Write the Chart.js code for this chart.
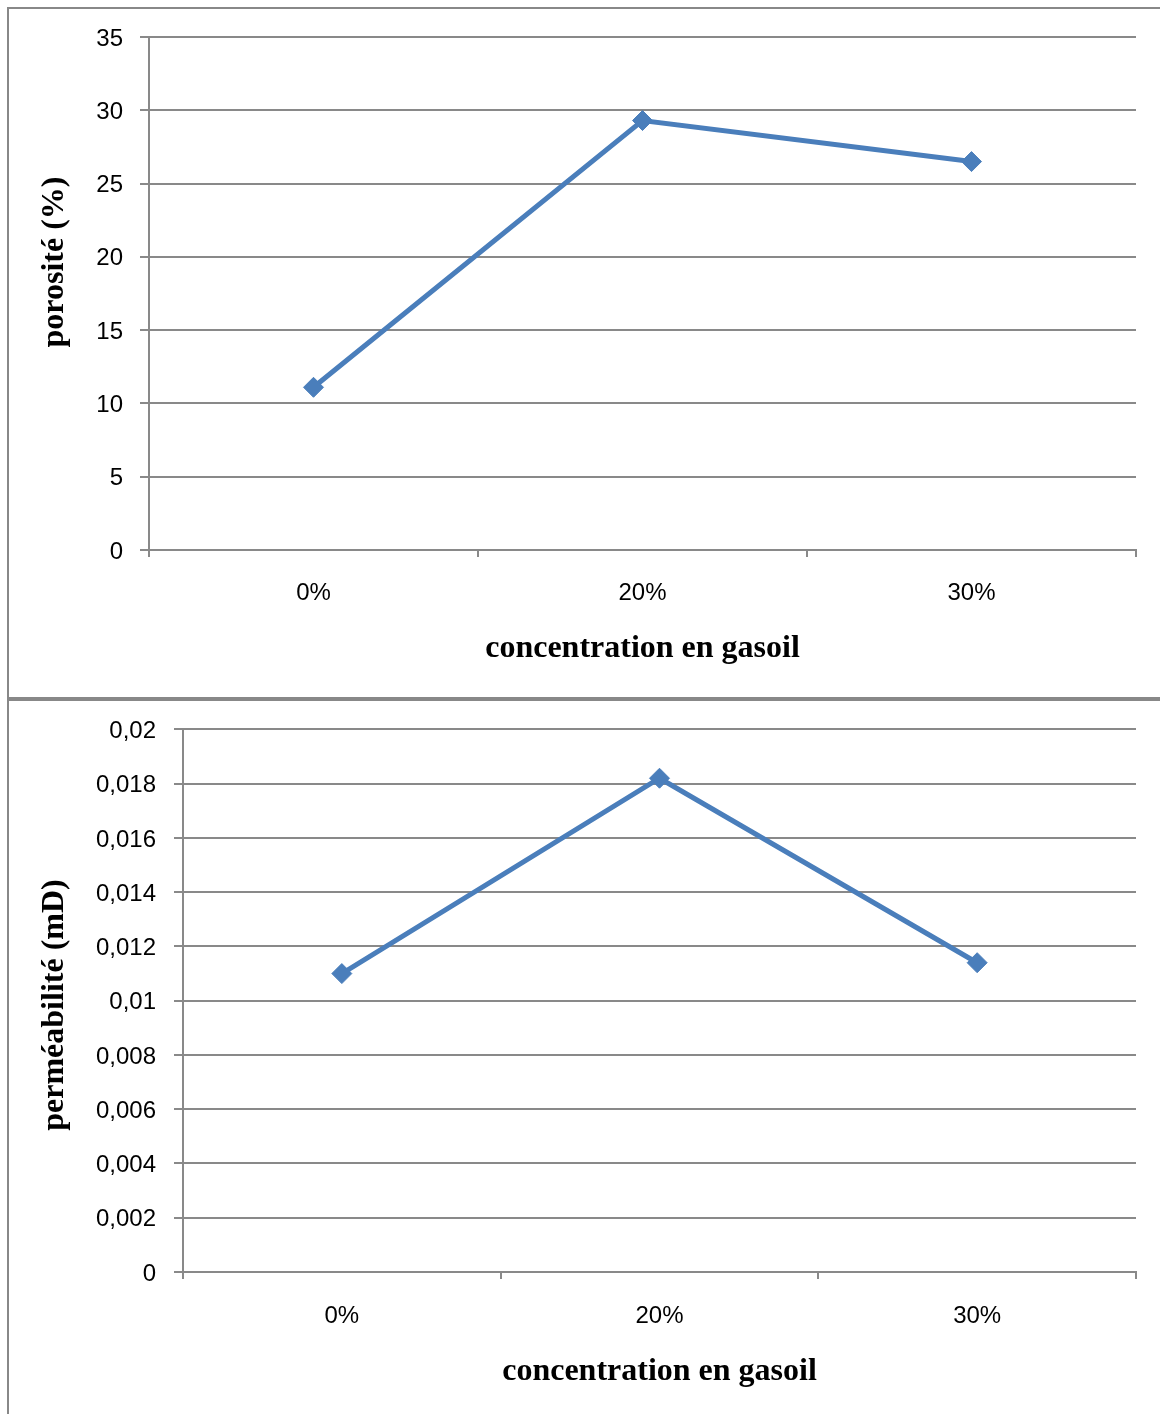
<!DOCTYPE html>
<html>
<head>
<meta charset="utf-8">
<script src="https://cdn.jsdelivr.net/npm/chart.js@4.4.1/dist/chart.umd.min.js"></script>
<style>
  html, body { margin: 0; padding: 0; background: #fff; }
  #page { position: relative; width: 1160px; height: 1414px; overflow: hidden; }
  .c { position: absolute; left: 0; }
  .rule { position: absolute; background: #888; }
</style>
</head>
<body>
<div id="page">
  <div class="c" style="top:0;width:1160px;height:697px"><canvas id="porosite"></canvas></div>
  <div class="c" style="top:697px;width:1160px;height:717px"><canvas id="permeabilite"></canvas></div>
  <div class="rule" style="left:7px;top:7px;width:2px;height:1407px"></div>
  <div class="rule" style="left:7px;top:7px;width:1153px;height:2px"></div>
  <div class="rule" style="left:7px;top:697px;width:1153px;height:4px"></div>
</div>
<script>
// Gasoil concentration categories shared by both charts
const concentrations = ['0%', '20%', '30%'];

// Porosity (%) per concentration
const porosite = [11.1, 29.3, 26.5];
const porositeTicks = [0, 5, 10, 15, 20, 25, 30, 35];
const porositeLabels = ['0', '5', '10', '15', '20', '25', '30', '35'];

// Permeability (mD) per concentration
const permeabilite = [0.011, 0.0182, 0.0114];
const permeabiliteTicks = [0, 0.002, 0.004, 0.006, 0.008, 0.01, 0.012, 0.014, 0.016, 0.018, 0.02];
const permeabiliteLabels = ['0', '0,002', '0,004', '0,006', '0,008', '0,01', '0,012', '0,014', '0,016', '0,018', '0,02'];

const xTitle = 'concentration en gasoil';
const yTitlePorosite = 'porosité (%)';
const yTitlePermeabilite = 'perméabilité (mD)';

const BLUE = '#4A7EBB';
const GRID = '#898989';
const tickFont = { family: '"Liberation Sans", Arial, sans-serif', size: 24 };
const titleFont = { family: '"Liberation Serif", "Times New Roman", serif', size: 32, weight: 'bold' };

// Rotated y-axis title drawn at a fixed spot
const yTitlePlugin = {
  id: 'yTitle',
  afterDraw(chart, args, opts) {
    const ctx = chart.ctx;
    ctx.save();
    ctx.translate(opts.x, opts.y);
    ctx.rotate(-Math.PI / 2);
    ctx.font = 'bold 32px "Liberation Serif", "Times New Roman", serif';
    ctx.fillStyle = '#000';
    ctx.textAlign = 'center';
    ctx.textBaseline = 'middle';
    ctx.fillText(opts.text, 0, 0);
    ctx.restore();
  }
};

function makeChart(id, values, tickValues, tickLabels, min, max, cfg) {
  return new Chart(document.getElementById(id), {
    type: 'line',
    data: {
      labels: concentrations,
      datasets: [{
        data: values,
        borderColor: BLUE,
        backgroundColor: BLUE,
        borderWidth: 5,
        pointStyle: 'rectRot',
        pointRadius: 10,
        pointBorderWidth: 1,
        pointBorderColor: BLUE,
        pointBackgroundColor: BLUE,
        tension: 0,
        fill: false
      }]
    },
    options: {
      responsive: true,
      maintainAspectRatio: false,
      animation: false,
      events: [],
      layout: { padding: { top: cfg.top, right: 24, left: 0, bottom: 0 } },
      plugins: {
        legend: { display: false },
        tooltip: { enabled: false },
        yTitle: { text: cfg.yTitle, x: 55, y: cfg.yTitleY }
      },
      scales: {
        x: {
          type: 'category',
          offset: true,
          grid: { offset: true, drawOnChartArea: false, drawTicks: true, tickLength: 7, color: GRID, lineWidth: 2 },
          border: { display: true, color: GRID, width: 2 },
          ticks: { color: '#000', font: tickFont, padding: cfg.xLabelPad, maxRotation: 0 },
          title: { display: true, text: xTitle, color: '#000', font: titleFont, padding: { top: 0, bottom: cfg.xTitlePad } },
          afterFit(scale) { scale.height = cfg.xHeight; }
        },
        y: {
          min: min,
          max: max,
          grid: { color: GRID, lineWidth: 2, tickLength: 9, drawTicks: true },
          border: { display: true, color: GRID, width: 2 },
          ticks: {
            color: '#000',
            font: tickFont,
            padding: cfg.yLabelPad,
            labelOffset: 2,
            callback: (v, i) => tickLabels[i]
          },
          afterBuildTicks(scale) { scale.ticks = tickValues.map(v => ({ value: v })); },
          afterFit(scale) { scale.width = cfg.yWidth; }
        }
      }
    },
    plugins: [yTitlePlugin]
  });
}

makeChart('porosite', porosite, porositeTicks, porositeLabels, 0, 35, {
  top: 37, yWidth: 149, xHeight: 147, xLabelPad: 22, xTitlePad: 29,
  yLabelPad: 17, yTitle: yTitlePorosite, yTitleY: 262
});

makeChart('permeabilite', permeabilite, permeabiliteTicks, permeabiliteLabels, 0, 0.02, {
  top: 32, yWidth: 183, xHeight: 142, xLabelPad: 23, xTitlePad: 23,
  yLabelPad: 18, yTitle: yTitlePermeabilite, yTitleY: 308
});
</script>
</body>
</html>
